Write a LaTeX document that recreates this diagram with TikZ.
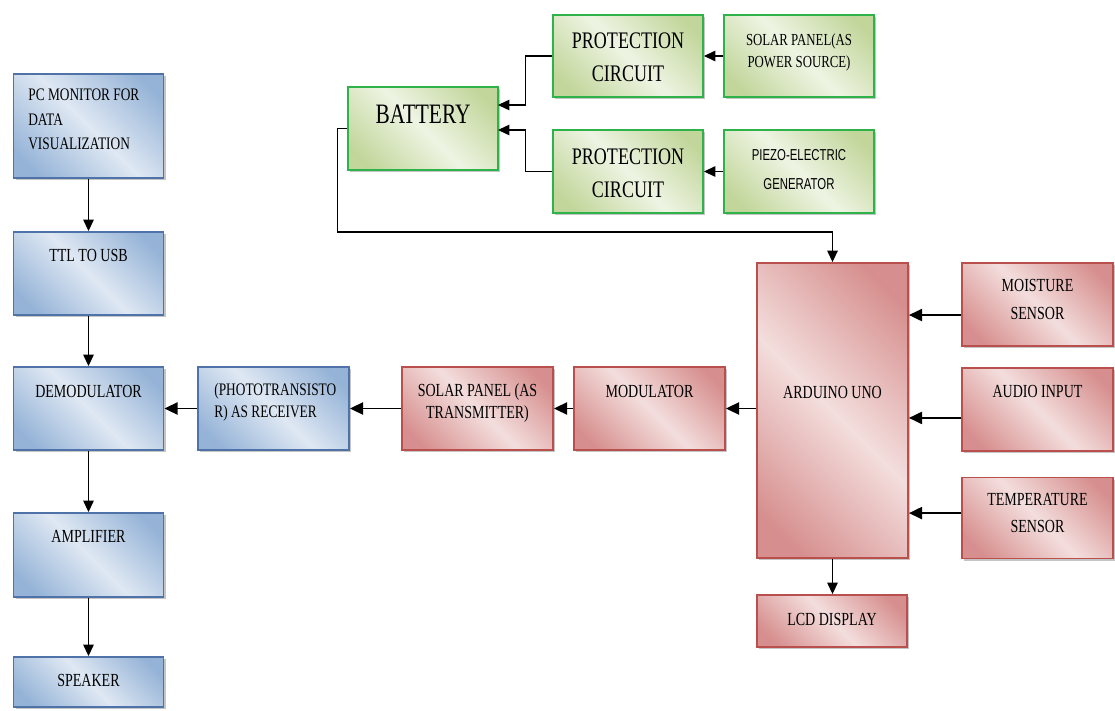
\documentclass[tikz,border=0pt]{standalone}
\usepackage{fontspec}
\setmainfont{Liberation Serif}
\newfontfamily\boxfont[FakeStretch=0.76]{Liberation Serif}
\newfontfamily\boxsans[FakeStretch=0.72]{Liberation Sans}
\usetikzlibrary{arrows.meta}
\usetikzlibrary{shadows}
\definecolor{BLUE_E}{HTML}{4F73A8}
\definecolor{BLUE_A}{HTML}{95B3D7}
\definecolor{BLUE_L}{HTML}{DFE8F3}
\definecolor{RED_E}{HTML}{B9504E}
\definecolor{RED_A}{HTML}{D68F8E}
\definecolor{RED_L}{HTML}{F3DEDD}
\definecolor{GREEN_E}{HTML}{2DB34A}
\definecolor{GREEN_A}{HTML}{C2D69B}
\definecolor{GREEN_L}{HTML}{EEF4E3}
\pgfdeclarehorizontalshading{bluefade}{100bp}{color(0bp)=(BLUE_A); color(22bp)=(BLUE_A); color(50bp)=(BLUE_L); color(78bp)=(BLUE_A); color(100bp)=(BLUE_A)}
\pgfdeclarehorizontalshading{redfade}{100bp}{color(0bp)=(RED_A); color(22bp)=(RED_A); color(50bp)=(RED_L); color(78bp)=(RED_A); color(100bp)=(RED_A)}
\pgfdeclarehorizontalshading{greenfade}{100bp}{color(0bp)=(GREEN_A); color(22bp)=(GREEN_A); color(50bp)=(GREEN_L); color(78bp)=(GREEN_A); color(100bp)=(GREEN_A)}
\tikzset{
	blk/.style = {line width=1.1pt, minimum width=3cm, minimum height=1.66cm, inner sep=0pt, shading angle=45,
		drop shadow={shadow xshift=1.3pt, shadow yshift=-1.3pt, fill=black!45, opacity=.5}},
	bluebox/.style = {blk, draw=BLUE_E, shading=bluefade},
	redbox/.style = {blk, draw=RED_E, shading=redfade},
	greenbox/.style = {blk, draw=GREEN_E, shading=greenfade},
	txt/.style = {font=\fontsize{10.5}{14}\boxfont, align=center, inner sep=0pt},
	arr/.style = {-{Triangle[length=7.5pt, width=7pt]}, line width=0.9pt},
	thinarr/.style = {-{Triangle[length=6.5pt, width=6pt]}, line width=0.6pt}
}
\begin{document}
\begin{tikzpicture}[x=0.02cm, y=-0.02cm]
		\useasboundingbox (0,0) rectangle (1115,710);
		
		% receiver side
		\node[bluebox, minimum height=2.08cm] (pc) at (88.5,126) {};
		\node[txt, align=left, anchor=west, font=\fontsize{10}{14}\boxfont] (pc-txt) at (28,119.5) {PC MONITOR FOR\\DATA\\VISUALIZATION};
		\node[bluebox] (ttl) at (88.5,273.5) {};
		\node[txt] (ttl-txt) at (88.5,255) {TTL TO USB};
		\node[bluebox] (demod) at (88.5,408.5) {};
		\node[txt] (demod-txt) at (88.5,391) {DEMODULATOR};
		\node[bluebox, minimum height=1.68cm] (amp) at (88.5,555) {};
		\node[txt] (amp-txt) at (88.5,536) {AMPLIFIER};
		\node[bluebox, minimum height=1cm] (spk) at (88.5,682) {};
		\node[txt] (spk-txt) at (88.5,680) {SPEAKER};
		\node[bluebox, minimum width=3.02cm] (photo) at (273.5,408.5) {};
		\node[txt, align=left, anchor=west, font=\fontsize{10}{12.5}\boxfont] (photo-txt) at (214,402.5) {(PHOTOTRANSISTO\\R) AS RECEIVER};
		
		% transmitter side
		\node[redbox, minimum width=3.02cm] (soltx) at (477.5,408.5) {};
		\node[txt, font=\fontsize{10.5}{12.5}\boxfont] (soltx-txt) at (477.5,403) {SOLAR PANEL (AS\\TRANSMITTER)};
		\node[redbox, minimum width=3.02cm] (mod) at (649.5,408.5) {};
		\node[txt] (mod-txt) at (649.5,391) {MODULATOR};
		\node[redbox, minimum width=3.02cm, minimum height=5.9cm] (ard) at (832.5,410.5) {};
		\node[txt] (ard-txt) at (832.5,392) {ARDUINO UNO};
		\node[redbox, minimum width=3.02cm] (moist) at (1037.5,304.5) {};
		\node[txt, font=\fontsize{10.5}{15.4}\boxfont] (moist-txt) at (1037.5,299.5) {MOISTURE\\SENSOR};
		\node[redbox, minimum width=3.02cm] (audio) at (1037.5,409.5) {};
		\node[txt] (audio-txt) at (1037.5,391) {AUDIO INPUT};
		\node[redbox, minimum width=3.02cm, minimum height=1.62cm] (temp) at (1037.5,518) {};
		\node[txt, font=\fontsize{10.5}{15.6}\boxfont] (temp-txt) at (1037.5,513) {TEMPERATURE\\SENSOR};
		\node[redbox, minimum height=1.04cm] (lcd) at (832,621) {};
		\node[txt] (lcd-txt) at (832,619) {LCD DISPLAY};
		
		% power supply
		\node[greenbox] (bat) at (423,128.5) {};
		\node[txt, font=\fontsize{16}{18}\boxfont] (bat-txt) at (423,114) {BATTERY};
		\node[greenbox, minimum height=1.64cm] (prot1) at (628,56) {};
		\node[txt, font=\fontsize{13.5}{18.8}\boxfont] (prot1-txt) at (628,57.5) {PROTECTION\\CIRCUIT};
		\node[greenbox, minimum height=1.64cm] (solpw) at (799,56) {};
		\node[txt, font=\fontsize{9.6}{13}\boxfont] (solpw-txt) at (799,52.5) {SOLAR PANEL(AS\\POWER SOURCE)};
		\node[greenbox] (prot2) at (628,171.5) {};
		\node[txt, font=\fontsize{13.5}{18.8}\boxfont] (prot2-txt) at (628,173) {PROTECTION\\CIRCUIT};
		\node[greenbox] (piezo) at (799,171.5) {};
		\node[txt, font=\fontsize{9}{16.5}\boxsans] (piezo-txt) at (799,169.5) {PIEZO-ELECTRIC\\GENERATOR};
		
		% power lines
		\coordinate (bat-in1) at (498,105);
		\coordinate (bat-in2) at (498,130);
		\draw[thinarr] (solpw.west) -- (prot1.east);
		\draw[thinarr] (piezo.west) -- (prot2.east);
		\draw[thinarr] (prot1.west) -- ++(-27,0) |- (bat-in1);
		\draw[thinarr] (prot2.west) -- ++(-27,0) |- (bat-in2);
		\draw[thinarr] (bat.west) -- ++(-10,0) -- ++(0,103.5) -| (ard.north);
		
		% sensors
		\coordinate (moist-o) at ([yshift=-6pt]moist.west);
		\coordinate (audio-o) at ([yshift=-4.8pt]audio.west);
		\coordinate (temp-o) at ([yshift=2.8pt]temp.west);
		\draw[arr] (moist-o) -- (moist-o -| ard.east);
		\draw[arr] (audio-o) -- (audio-o -| ard.east);
		\draw[arr] (temp-o) -- (temp-o -| ard.east);
		\draw[thinarr] (ard.south) -- (ard.south |- lcd.north);
		
		% signal chain
		\draw[arr] (ard.west |- mod) -- (mod.east);
		\draw[arr] (mod.west) -- (soltx.east);
		\draw[arr] (soltx.west) -- (photo.east);
		\draw[arr] (photo.west) -- (demod.east);
		\draw[thinarr] (pc.south) -- (ttl.north);
		\draw[thinarr] (ttl.south) -- (demod.north);
		\draw[thinarr] (demod.south) -- (amp.north);
		\draw[thinarr] (amp.south) -- (spk.north);
	\end{tikzpicture}
\end{document}
